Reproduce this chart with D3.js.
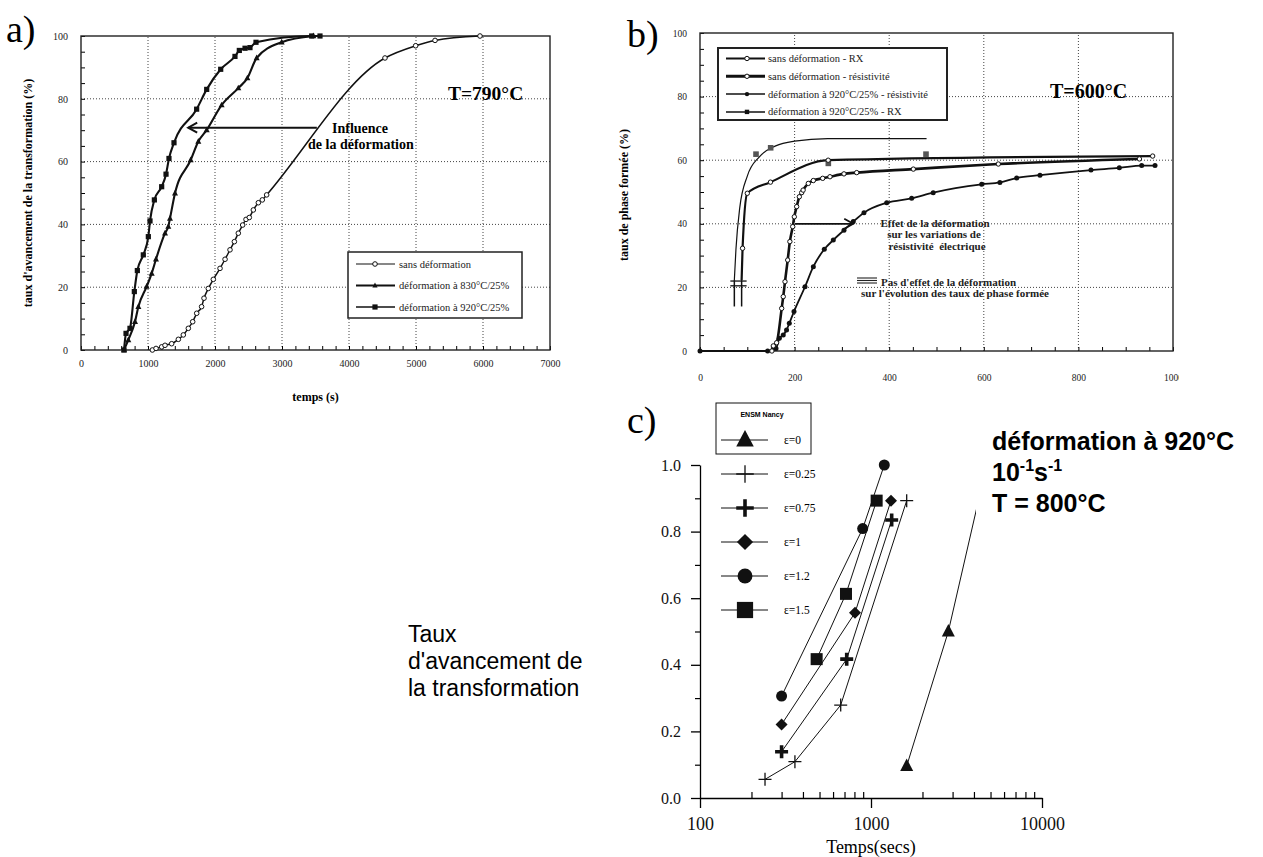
<!DOCTYPE html>
<html>
<head>
<meta charset="utf-8">
<script src="https://cdn.jsdelivr.net/npm/d3@7"></script>
<style>
  body { margin: 0; background: white; }
  svg { display: block; }
</style>
</head>
<body>
<script>
// ---------- DATA ----------
// a) T=790°C  -- temps (s) / taux d'avancement (%)
const a_sans = [[1065,0],[1120,0.5],[1204,1],[1254,1.5],[1353,2],[1453,3.4],[1527,4.8],[1602,6.9],[1667,9],[1727,11.7],[1800,13.8],[1836,16.5],[1900,19.6],[1975,22.5],[2075,26],[2150,28.9],[2224,31.9],[2289,34.5],[2348,37.2],[2413,39.8],[2463,41.6],[2512,42.2],[2572,44.6],[2647,46.9],[2706,47.8],[2771,49.4],[4537,93],[4995,96.9],[5284,98.6],[5955,100]];
const a_830 = [[642,0],[706,3.2],[806,9],[856,13.8],[980,20.2],[1055,24.4],[1119,28.9],[1254,37.2],[1303,39.3],[1328,41.9],[1403,49.9],[1637,60.5],[1751,66.4],[1876,70.1],[2099,78],[2348,83.4],[2483,86.6],[2622,93],[2995,98],[3468,100]];
const a_920 = [[642,0],[672,5.3],[731,6.9],[796,18.6],[841,25.3],[930,30.3],[1005,36.1],[1030,41.1],[1095,47.8],[1204,52],[1269,56],[1313,61],[1388,66],[1726,76.7],[1876,83],[2085,89.4],[2298,93.5],[2363,95.4],[2448,96.1],[2522,96.3],[2612,98],[3443,100],[3567,100]];
const a_xTicks = [0,1000,2000,3000,4000,5000,6000,7000];
const a_yTicks = [0,20,40,60,80,100];
const a_legend = ["sans déformation","déformation à 830°C/25%","déformation à 920°C/25%"];
const a_arrow = [[3520,70.8],[1600,70.8]];

// b) T=600°C  -- taux de phase formée (%)
const b_sansRX = [[88,22.3],[90,32.3],[100,49.6],[149,53.1],[271,60],[957,61.3]];
const b_sansRes = [[152,0],[155,1.6],[162,2.6],[172.7,13.4],[176,17.1],[179.7,21.8],[185.4,28.6],[190,34.4],[196,39.1],[199.4,42.2],[204.4,45.4],[210,48.5],[215,49.8],[218,50.6],[229,52.7],[239.6,53.6],[259.4,54.3],[274.8,54.8],[304.4,55.7],[331.3,56.1],[451,57.2],[630.7,58.8],[929,60.4]];
const b_defRes = [[0,0],[143,0],[160.7,0.8],[167.7,4],[176,5],[183,6.6],[188.8,8.7],[198.7,12.4],[222,20.2],[239.6,26.5],[262.8,32],[281.8,34.9],[304.4,38],[324,40.7],[346.7,43.5],[394.7,46.6],[447.5,48],[493,49.8],[595.5,52.4],[634,53],[669.5,54.4],[718.8,55.3],[826.6,56.9],[886.5,57.6],[933.8,58.3],[962,58.3]];
const b_defRX = [[118.4,61.9],[149.4,63.9],[271.3,59],[477.8,61.9]];
const b_defRXfit = [[72.6,22.3],[76,32],[84,45],[100,55],[125,61],[160,64.5],[200,66],[270,66.8],[479,66.8]];
const b_xTicks = [0,200,400,600,800,1000];
const b_yTicks = [0,20,40,60,80,100];
const b_legend = ["sans déformation - RX","sans déformation - résistivité","déformation à 920°C/25% - résistivité","déformation à 920°C/25% - RX"];
const b_arrow = [[200.8,40],[324,40]];
const b_breakLow = 14;
const b_breakMarks = [20.5,22];

// c) T = 800°C  -- Temps(secs), log
const c_e0 = [[1617,0.096],[2833,0.5],[4600,0.97]];
const c_e025 = [[240,0.056],[359,0.109],[665,0.279],[1617,0.893]];
const c_e075 = [[300,0.139],[721,0.417],[1321,0.835]];
const c_e1 = [[300,0.221],[806,0.556],[1309,0.893]];
const c_e12 = [[300,0.306],[894,0.809],[1196,1.0]];
const c_e15 = [[481,0.417],[714,0.613],[1079,0.893]];
const c_names = ["ε=0","ε=0.25","ε=0.75","ε=1","ε=1.2","ε=1.5"];
const c_shapes = ["tri","plus","plusBold","diamond","circle","square"];
const c_yTicks = [0,0.2,0.4,0.6,0.8,1.0];
const c_xTicks = [100,1000,10000];

// ---------- SETUP ----------
const [width, height] = [1263, 857];
const serif = '"Liberation Serif","Times New Roman",serif';
const sans = '"Liberation Sans",Arial,sans-serif';
const ink = "#111";

const svg = d3.select("body").append("svg")
    .attr("width", width).attr("height", height)
    .attr("viewBox", [0, 0, width, height]);
svg.append("rect").attr("width", width).attr("height", height).attr("fill", "white");

function addMarker(g, shape, s) {
  if (shape === "ocircle") g.append("circle").attr("r", s).attr("fill", "white").attr("stroke", ink).attr("stroke-width", 1);
  else if (shape === "circle") g.append("circle").attr("r", s).attr("fill", ink);
  else if (shape === "square") g.append("rect").attr("x", -s).attr("y", -s).attr("width", 2*s).attr("height", 2*s).attr("fill", ink);
  else if (shape === "gsquare") g.append("rect").attr("x", -s).attr("y", -s).attr("width", 2*s).attr("height", 2*s).attr("fill", "#555");
  else if (shape === "tri") g.append("path").attr("d", `M0,${-s*1.15}L${s},${s*0.75}L${-s},${s*0.75}Z`).attr("fill", ink);
  else if (shape === "diamond") g.append("path").attr("d", `M0,${-s}L${s},0L0,${s}L${-s},0Z`).attr("fill", ink);
  else if (shape === "plus" || shape === "plusBold") g.append("path")
      .attr("d", `M${-s},0H${s}M0,${-s}V${s}`).attr("fill", "none").attr("stroke", ink)
      .attr("stroke-width", shape === "plus" ? 1.3 : 3.6);
}

function drawSeries(g, x, y, pts, o) {
  if (o.width) g.append("path").datum(pts)
      .attr("d", d3.line().x(d => x(d[0])).y(d => y(d[1])).curve(o.curve || d3.curveLinear))
      .attr("fill", "none").attr("stroke", ink).attr("stroke-width", o.width).attr("stroke-linejoin", "round");
  if (o.shape) g.selectAll(null).data(o.skipFirst ? pts.slice(1) : pts).join("g")
      .attr("transform", d => `translate(${x(d[0])},${y(d[1])})`)
      .each(function() { addMarker(d3.select(this), o.shape, o.size); });
}

function grid(g, x, y, xs, ys) {
  const gg = g.append("g").attr("stroke", "#444").attr("stroke-width", 1).attr("stroke-dasharray", "1,2");
  gg.selectAll(null).data(xs).join("line")
      .attr("x1", d => x(d)).attr("x2", d => x(d)).attr("y1", y.range()[0]).attr("y2", y.range()[1]);
  gg.selectAll(null).data(ys).join("line")
      .attr("y1", d => y(d)).attr("y2", d => y(d)).attr("x1", x.range()[0]).attr("x2", x.range()[1]);
}

function tickText(sel, size) {
  sel.select(".domain").remove();
  sel.selectAll("text").attr("font-family", serif).attr("font-size", size).attr("fill", "#222");
}

// ---------- PANEL a ----------
const ga = svg.append("g");
const ax = d3.scaleLinear([0, 7000], [81, 550]);
const ay = d3.scaleLinear([0, 100], [350, 36]);

grid(ga, ax, ay, a_xTicks.slice(1, -1), a_yTicks.slice(1, -1));

ga.append("g").attr("transform", `translate(${ax(0)},0)`)
    .call(d3.axisLeft(ay).tickValues(d3.range(0, 101, 5)).tickSize(-4).tickFormat(""))
    .call(s => s.select(".domain").remove());
ga.append("g").attr("transform", `translate(0,${ay(0)})`)
    .call(d3.axisBottom(ax).tickValues(d3.range(0, 7001, 200)).tickSize(-4).tickFormat(""))
    .call(s => s.select(".domain").remove());
ga.append("g").attr("transform", `translate(${ax(0)},0)`)
    .call(d3.axisLeft(ay).tickValues(a_yTicks).tickSize(0).tickPadding(13))
    .call(s => tickText(s, 10));
ga.append("g").attr("transform", `translate(0,${ay(0)})`)
    .call(d3.axisBottom(ax).tickValues(a_xTicks).tickFormat(d3.format("d")).tickSize(0).tickPadding(10))
    .call(s => tickText(s, 10));

ga.append("rect").attr("x", ax(0)).attr("y", ay(100))
    .attr("width", ax(7000) - ax(0)).attr("height", ay(0) - ay(100))
    .attr("fill", "none").attr("stroke", "#222").attr("stroke-width", 1.4);

drawSeries(ga, ax, ay, a_sans, { width: 1.5, curve: d3.curveMonotoneX, shape: "ocircle", size: 2.3 });
drawSeries(ga, ax, ay, a_830, { width: 2.1, curve: d3.curveMonotoneX, shape: "tri", size: 3 });
drawSeries(ga, ax, ay, a_920, { width: 2.1, curve: d3.curveMonotoneX, shape: "square", size: 2.6 });

// arrow "Influence de la déformation"
ga.append("line").attr("x1", ax(a_arrow[0][0])).attr("y1", ay(a_arrow[0][1]))
    .attr("x2", ax(a_arrow[1][0])).attr("y2", ay(a_arrow[1][1]))
    .attr("stroke", ink).attr("stroke-width", 2);
ga.append("path")
    .attr("d", `M${ax(a_arrow[1][0]) + 9},${ay(a_arrow[1][1]) - 5}L${ax(a_arrow[1][0])},${ay(a_arrow[1][1])}L${ax(a_arrow[1][0]) + 9},${ay(a_arrow[1][1]) + 5}`)
    .attr("fill", "none").attr("stroke", ink).attr("stroke-width", 2);
ga.append("text").attr("x", 332).attr("y", 133).text("Influence")
    .attr("font-family", serif).attr("font-size", 14).attr("font-weight", "bold");
ga.append("text").attr("x", 308).attr("y", 149).text("de la déformation")
    .attr("font-family", serif).attr("font-size", 14).attr("font-weight", "bold");
ga.append("text").attr("x", 448).attr("y", 100).text("T=790°C")
    .attr("font-family", serif).attr("font-size", 19.5).attr("font-weight", "bold");

// legend a
ga.append("rect").attr("x", 348).attr("y", 252).attr("width", 174).attr("height", 66)
    .attr("fill", "white").attr("stroke", "#222").attr("stroke-width", 1.5);
const aLegShapes = ["ocircle", "tri", "square"];
const aLegW = [1.2, 2.2, 1.6];
a_legend.forEach((name, i) => {
  const yy = 264 + i * 21.5;
  ga.append("line").attr("x1", 356).attr("x2", 395).attr("y1", yy).attr("y2", yy)
      .attr("stroke", ink).attr("stroke-width", aLegW[i]);
  addMarker(ga.append("g").attr("transform", `translate(375,${yy})`), aLegShapes[i], i === 0 ? 2.3 : 2.6);
  ga.append("text").attr("x", 399).attr("y", yy + 3.5).text(name)
      .attr("font-family", serif).attr("font-size", 10.5).attr("fill", "#222");
});

ga.append("text").attr("transform", `translate(32,${(ay(0) + ay(100)) / 2}) rotate(-90)`)
    .attr("text-anchor", "middle").text("taux d'avancement de la transformation (%)")
    .attr("font-family", serif).attr("font-size", 12).attr("font-weight", "bold");
ga.append("text").attr("x", (ax(0) + ax(7000)) / 2).attr("y", 401).attr("text-anchor", "middle")
    .text("temps (s)").attr("font-family", serif).attr("font-size", 12).attr("font-weight", "bold");
svg.append("text").attr("x", 6).attr("y", 42).text("a)")
    .attr("font-family", serif).attr("font-size", 38);

// ---------- PANEL b ----------
svg.append("clipPath").attr("id", "clipb").append("rect")
    .attr("x", 600).attr("y", 0).attr("width", 579).attr("height", 420);
const gb = svg.append("g").attr("clip-path", "url(#clipb)");
const bx = d3.scaleLinear([0, 1000], [700, 1173]);
const by = d3.scaleLinear([0, 100], [351, 33]);

grid(gb, bx, by, b_xTicks.slice(1, -1), b_yTicks.slice(1, -1));
gb.append("g").attr("transform", `translate(${bx(0)},0)`)
    .call(d3.axisLeft(by).tickValues(d3.range(0, 101, 5)).tickSize(-4).tickFormat(""))
    .call(s => s.select(".domain").remove());
gb.append("g").attr("transform", `translate(0,${by(0)})`)
    .call(d3.axisBottom(bx).tickValues(d3.range(0, 1001, 50)).tickSize(-4).tickFormat(""))
    .call(s => s.select(".domain").remove());
gb.append("g").attr("transform", `translate(${bx(0)},0)`)
    .call(d3.axisLeft(by).tickValues(b_yTicks).tickSize(0).tickPadding(13))
    .call(s => tickText(s, 9.5));
gb.append("g").attr("transform", `translate(0,${by(0)})`)
    .call(d3.axisBottom(bx).tickValues(b_xTicks).tickFormat(d3.format("d")).tickSize(0).tickPadding(23))
    .call(s => tickText(s, 9.5));
gb.append("rect").attr("x", bx(0)).attr("y", by(100))
    .attr("width", bx(1000) - bx(0)).attr("height", by(0) - by(100))
    .attr("fill", "none").attr("stroke", "#222").attr("stroke-width", 1.4);

drawSeries(gb, bx, by, b_defRXfit, { width: 1.2, curve: d3.curveMonotoneX });
drawSeries(gb, bx, by, b_defRX, { shape: "gsquare", size: 2.8 });
drawSeries(gb, bx, by, b_sansRX, { width: 2.2, curve: d3.curveMonotoneX, shape: "ocircle", size: 2.2, skipFirst: true });
drawSeries(gb, bx, by, b_defRes, { width: 1.8, curve: d3.curveMonotoneX, shape: "circle", size: 2.5 });
drawSeries(gb, bx, by, b_sansRes, { width: 2.6, curve: d3.curveMonotoneX, shape: "ocircle", size: 2.2 });

// broken starts of the RX curves
[b_defRXfit[0], b_sansRX[0]].forEach(p => {
  gb.append("line").attr("x1", bx(p[0])).attr("x2", bx(p[0])).attr("y1", by(p[1])).attr("y2", by(b_breakLow))
      .attr("stroke", ink).attr("stroke-width", 1.5);
});
b_breakMarks.forEach(v => {
  gb.append("line").attr("x1", bx(b_defRXfit[0][0]) - 4).attr("x2", bx(b_sansRX[0][0]) + 5)
      .attr("y1", by(v)).attr("y2", by(v)).attr("stroke", ink).attr("stroke-width", 1.3);
});

// arrow "Effet de la déformation"
gb.append("line").attr("x1", bx(b_arrow[0][0])).attr("y1", by(b_arrow[0][1]))
    .attr("x2", bx(b_arrow[1][0])).attr("y2", by(b_arrow[1][1]))
    .attr("stroke", ink).attr("stroke-width", 1.8);
gb.append("path")
    .attr("d", `M${bx(b_arrow[1][0]) - 9},${by(b_arrow[1][1]) - 5}L${bx(b_arrow[1][0])},${by(b_arrow[1][1])}L${bx(b_arrow[1][0]) - 9},${by(b_arrow[1][1]) + 5}`)
    .attr("fill", "none").attr("stroke", ink).attr("stroke-width", 1.8);

const bNotes = [
  ["Effet de la déformation", 935, 227, "middle"],
  ["sur les variations de", 934, 238, "middle"],
  ["résistivité  électrique", 937, 249.5, "middle"],
  ["Pas d'effet de la déformation", 881, 285.5, "start"],
  ["sur l'évolution des taux de phase formée", 955, 296.5, "middle"]
];
bNotes.forEach(([t, x, y, anchor]) => {
  gb.append("text").attr("x", x).attr("y", y).attr("text-anchor", anchor).text(t)
      .attr("font-family", serif).attr("font-size", 11).attr("font-weight", "bold").attr("fill", "#222")
      .style("white-space", "pre");
});
// "≡" sign in front of "Pas d'effet"
[-7.5, -5, -2.5].forEach(dy => {
  gb.append("line").attr("x1", 857).attr("x2", 877).attr("y1", 285.5 + dy).attr("y2", 285.5 + dy)
      .attr("stroke", "#222").attr("stroke-width", 1.1);
});
gb.append("text").attr("x", 1050).attr("y", 98).text("T=600°C")
    .attr("font-family", serif).attr("font-size", 20).attr("font-weight", "bold");

// legend b
gb.append("rect").attr("x", 718).attr("y", 48).attr("width", 229).attr("height", 72)
    .attr("fill", "white").attr("stroke", "#222").attr("stroke-width", 2);
const bLegShapes = ["ocircle", "ocircle", "circle", "square"];
const bLegW = [2, 3, 1.5, 1.5];
b_legend.forEach((name, i) => {
  const yy = 58.5 + i * 17.8;
  gb.append("line").attr("x1", 726).attr("x2", 765).attr("y1", yy).attr("y2", yy)
      .attr("stroke", ink).attr("stroke-width", bLegW[i]);
  addMarker(gb.append("g").attr("transform", `translate(747,${yy})`), bLegShapes[i], 2.2);
  gb.append("text").attr("x", 768).attr("y", yy + 3.5).text(name)
      .attr("font-family", serif).attr("font-size", 10.5).attr("fill", "#222");
});

svg.append("text").attr("transform", `translate(628,195) rotate(-90)`)
    .attr("text-anchor", "middle").text("taux de phase formée (%)")
    .attr("font-family", serif).attr("font-size", 12).attr("font-weight", "bold");
svg.append("text").attr("x", 627).attr("y", 47).text("b)")
    .attr("font-family", serif).attr("font-size", 38);

// ---------- PANEL c ----------
const gc = svg.append("g");
const cx = d3.scaleLog([100, 10000], [700, 1042]);
const cy = d3.scaleLinear([0, 1], [798, 465]);
const cSeries = [c_e0, c_e025, c_e075, c_e1, c_e12, c_e15];
const cSizes = [6.5, 6.5, 6.5, 6, 5.5, 6];

gc.append("g").attr("transform", `translate(${cx(100)},0)`)
    .call(d3.axisLeft(cy).tickValues(d3.range(0.1, 1, 0.2)).tickSize(5).tickFormat(""))
    .call(s => s.select(".domain").remove())
    .call(s => s.selectAll("line").attr("stroke-width", 1.2));
gc.append("g").attr("transform", `translate(${cx(100)},0)`)
    .call(d3.axisLeft(cy).tickValues(c_yTicks).tickFormat(d3.format(".1f")).tickSize(9).tickSizeOuter(0).tickPadding(10))
    .call(s => s.selectAll("text").attr("font-family", serif).attr("font-size", 16).attr("fill", ink))
    .call(s => s.selectAll("line, .domain").attr("stroke-width", 1.3));
const minorX = d3.range(2, 10).map(d => d * 100).concat(d3.range(2, 10).map(d => d * 1000));
gc.append("g").attr("transform", `translate(0,${cy(0)})`)
    .call(d3.axisBottom(cx).tickValues(minorX).tickSize(-6).tickFormat(""))
    .call(s => s.select(".domain").remove())
    .call(s => s.selectAll("line").attr("stroke-width", 1.2));
gc.append("g").attr("transform", `translate(0,${cy(0)})`)
    .call(d3.axisBottom(cx).tickValues(c_xTicks).tickFormat(d3.format("d")).tickSize(10).tickSizeOuter(0).tickPadding(9))
    .call(s => s.selectAll("text").attr("font-family", serif).attr("font-size", 18).attr("fill", ink))
    .call(s => s.selectAll("line, .domain").attr("stroke-width", 1.3));
gc.append("text").attr("x", (cx(100) + cx(10000)) / 2).attr("y", 853).attr("text-anchor", "middle")
    .text("Temps(secs)").attr("font-family", serif).attr("font-size", 18);

cSeries.forEach((pts, i) => {
  drawSeries(gc, cx, cy, pts, { width: 1, shape: c_shapes[i], size: cSizes[i] });
});

// legend c
gc.append("rect").attr("x", 716).attr("y", 403).attr("width", 95).attr("height", 51)
    .attr("fill", "white").attr("stroke", ink).attr("stroke-width", 1);
gc.append("text").attr("x", 762).attr("y", 417).attr("text-anchor", "middle").text("ENSM Nancy")
    .attr("font-family", sans).attr("font-size", 7).attr("font-weight", "bold");
c_names.forEach((name, i) => {
  const yy = 440 + i * 34;
  gc.append("line").attr("x1", 721).attr("x2", 768).attr("y1", yy).attr("y2", yy)
      .attr("stroke", ink).attr("stroke-width", 1);
  addMarker(gc.append("g").attr("transform", `translate(745,${yy})`), c_shapes[i], cSizes[i] * 1.35);
  gc.append("text").attr("x", 784).attr("y", yy + 4).text(name)
      .attr("font-family", serif).attr("font-size", 11.5);
});

// text box over the top-right of c (hides the end of the ε=0 line)
svg.append("rect").attr("x", 976).attr("y", 412).attr("width", 287).attr("height", 130).attr("fill", "white");
const rt = svg.append("text").attr("font-family", sans).attr("font-weight", "bold").attr("font-size", 25);
rt.append("tspan").attr("x", 992).attr("y", 450).text("déformation à 920°C");
rt.append("tspan").attr("x", 992).attr("y", 481).text("10");
rt.append("tspan").attr("dy", -10).attr("font-size", 16).text("-1");
rt.append("tspan").attr("dy", 10).text("s");
rt.append("tspan").attr("dy", -10).attr("font-size", 16).text("-1");
rt.append("tspan").attr("x", 992).attr("y", 512).text("T = 800°C");

const lt = svg.append("text").attr("font-family", sans).attr("font-size", 23);
["Taux", "d'avancement de", "la transformation"].forEach((t, i) => {
  lt.append("tspan").attr("x", 408).attr("y", 642 + i * 27).text(t);
});
svg.append("text").attr("x", 627).attr("y", 433).text("c)")
    .attr("font-family", serif).attr("font-size", 38);
</script>
</body>
</html>
